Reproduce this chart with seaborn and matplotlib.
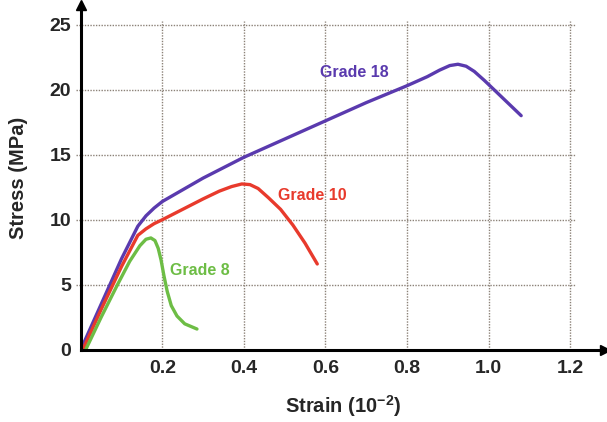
import matplotlib
matplotlib.use("Agg")
import matplotlib.pyplot as plt
import seaborn as sns
import pandas as pd

# ---- data ----
grade18_strain = [0.0, 0.05, 0.10, 0.14, 0.16, 0.18, 0.20, 0.25, 0.30, 0.40, 0.50, 0.60, 0.70, 0.80, 0.85, 0.88, 0.905, 0.925, 0.945, 0.965, 0.99, 1.02, 1.05, 1.08]
grade18_stress = [0.0, 3.5, 7.0, 9.5, 10.3, 10.9, 11.4, 12.3, 13.2, 14.8, 16.2, 17.6, 19.0, 20.3, 21.0, 21.5, 21.85, 21.95, 21.8, 21.4, 20.7, 19.8, 18.9, 18.0]

grade10_strain = [0.005, 0.05, 0.10, 0.14, 0.16, 0.18, 0.20, 0.25, 0.30, 0.34, 0.37, 0.395, 0.415, 0.435, 0.46, 0.49, 0.52, 0.55, 0.58]
grade10_stress = [0.0, 3.1, 6.4, 8.8, 9.3, 9.7, 10.0, 10.8, 11.6, 12.2, 12.55, 12.75, 12.7, 12.4, 11.7, 10.8, 9.6, 8.2, 6.6]

grade8_strain = [0.012, 0.05, 0.09, 0.12, 0.145, 0.16, 0.172, 0.182, 0.19, 0.197, 0.204, 0.212, 0.222, 0.236, 0.255, 0.285]
grade8_stress = [0.0, 2.5, 5.0, 6.8, 8.0, 8.5, 8.6, 8.4, 7.8, 6.9, 5.7, 4.5, 3.4, 2.6, 2.0, 1.6]

series_names = ["Grade 18", "Grade 10", "Grade 8"]
series_colors = ["#5a3aae", "#e83a2c", "#6dbd45"]
label_pos = [(0.672, 21.3), (0.567, 11.9), (0.292, 6.1)]

x_ticks = [0.2, 0.4, 0.6, 0.8, 1.0, 1.2]
x_ticklabels = ["0.2", "0.4", "0.6", "0.8", "1.0", "1.2"]
y_ticks = [0, 5, 10, 15, 20, 25]
y_ticklabels = ["0", "5", "10", "15", "20", "25"]

# ---- build table ----
frames = []
for name, xs, ys in zip(series_names,
                        [grade18_strain, grade10_strain, grade8_strain],
                        [grade18_stress, grade10_stress, grade8_stress]):
    frames.append(pd.DataFrame({"strain": xs, "stress": ys, "grade": name}))
df = pd.concat(frames, ignore_index=True)

sns.set_style("white")
plt.rcParams["font.family"] = ["Liberation Sans", "DejaVu Sans"]
plt.rcParams["mathtext.fontset"] = "custom"
plt.rcParams["mathtext.rm"] = "Liberation Sans:bold"
plt.rcParams["mathtext.bf"] = "Liberation Sans:bold"
plt.rcParams["mathtext.it"] = "Liberation Sans:bold"

fig = plt.figure(figsize=(6.07, 4.22), dpi=100)
ax = fig.add_axes([0.133, 0.171, 0.864, 0.817])

# grid drawn as dotted lines limited to the tick range
xmax_grid = 1.215
ymax_grid = 25.25
ax.hlines(y_ticks[1:], -0.012, xmax_grid, colors="#8c8278", linestyles=(0, (1, 1)), lw=1.0, zorder=1, clip_on=False)
ax.vlines(x_ticks, 0, ymax_grid, colors="#8c8278", linestyles=(0, (1, 1)), lw=1.0, zorder=1)

sns.lineplot(data=df, x="strain", y="stress", hue="grade", hue_order=series_names,
             palette=series_colors, sort=False, estimator=None, lw=2.4,
             legend=False, ax=ax, zorder=3)
for ln in ax.get_lines():
    ln.set_solid_joinstyle("round")
    ln.set_solid_capstyle("round")

for name, col, (lx, ly) in zip(series_names, series_colors, label_pos):
    ax.text(lx, ly, name, color=col, fontsize=11.5, fontweight="bold", ha="center", va="center")

ax.set_xlim(0, 1.286)
ax.set_ylim(0, 26.5)
ax.set_xticks(x_ticks)
ax.set_xticklabels(x_ticklabels, fontsize=14, fontweight="bold")
ax.set_yticks(y_ticks)
ax.set_yticklabels(y_ticklabels, fontsize=14, fontweight="bold")
ax.tick_params(axis="both", length=0, pad=7)

for s in ["top", "right"]:
    ax.spines[s].set_visible(False)
for s in ["left", "bottom"]:
    ax.spines[s].set_linewidth(2.2)
    ax.spines[s].set_color("black")
    ax.spines[s].set_zorder(4)

# arrow heads
ax.plot(1, 0, marker=">", color="black", ms=7, transform=ax.get_yaxis_transform(), clip_on=False, zorder=5)
ax.plot(0, 1, marker="^", color="black", ms=7, transform=ax.get_xaxis_transform(), clip_on=False, zorder=5)

ax.set_xlabel("Strain (10$^{-2}$)", fontsize=14.5, fontweight="bold", labelpad=12)
ax.set_ylabel("Stress (MPa)", fontsize=14.5, fontweight="bold", labelpad=15)

fig.savefig("out.png", dpi=100, facecolor="white")
